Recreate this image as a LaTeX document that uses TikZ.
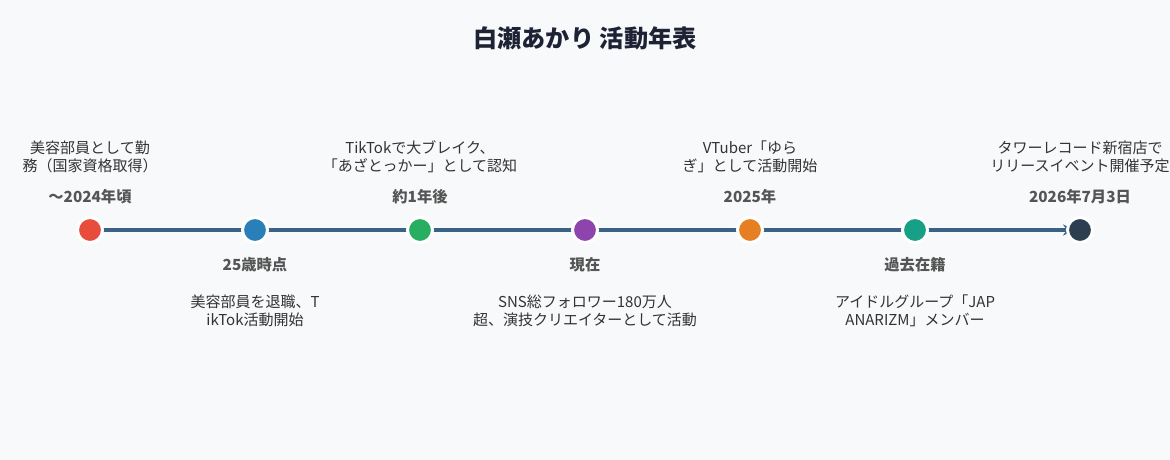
\documentclass[tikz,border=0pt]{standalone}
\usepackage{fontspec}
\setmainfont{Noto Sans CJK JP}
\usetikzlibrary{arrows.meta}
\definecolor{bg}{HTML}{F8F9FA}
\definecolor{axis}{HTML}{3A6186}
\definecolor{ttl}{HTML}{1E2235}
\definecolor{desc}{HTML}{333333}
\definecolor{datec}{HTML}{555555}
\definecolor{c1}{HTML}{E74C3C}
\definecolor{c2}{HTML}{2980B9}
\definecolor{c3}{HTML}{27AE60}
\definecolor{c4}{HTML}{8E44AD}
\definecolor{c5}{HTML}{E67E22}
\definecolor{c6}{HTML}{16A085}
\definecolor{c7}{HTML}{2C3E50}
\tikzset{
  ev/.style={circle, minimum size=25pt, inner sep=0pt, draw=white, line width=3pt, fill=#1},
  datelbl/.style={font=\fontsize{15.3}{18}\selectfont\bfseries, text=datec, inner sep=0pt},
  desclbl/.style={font=\fontsize{15}{18}\selectfont, text=desc, align=center, inner sep=0pt},
}
\begin{document}
\begin{tikzpicture}[x=1pt,y=-1pt]
\fill[bg] (0,0) rectangle (1170,460);
\useasboundingbox (0,0) rectangle (1170,460);
\node[font=\fontsize{24.2}{28}\selectfont\bfseries, text=ttl] (title) at (585,38) {白瀬あかり 活動年表};
\coordinate (p1) at (90,230);
\coordinate (p7) at (1075,230);
\draw[axis, line width=4pt, -{Stealth[length=12pt,width=11pt]}] (p1) -- (p7);
\node[ev=c1] (n1) at (90,230) {};
\node[ev=c2] (n2) at (255,230) {};
\node[ev=c3] (n3) at (420,230) {};
\node[ev=c4] (n4) at (585,230) {};
\node[ev=c5] (n5) at (750,230) {};
\node[ev=c6] (n6) at (915,230) {};
\node[ev=c7] (n7) at (1080,230) {};
% dates
\node[datelbl] (d1) at (90,197) {～2024年頃};
\node[datelbl] (d2) at (255,265) {25歳時点};
\node[datelbl] (d3) at (420,197) {約1年後};
\node[datelbl] (d4) at (585,265) {現在};
\node[datelbl] (d5) at (750,197) {2025年};
\node[datelbl] (d6) at (915,265) {過去在籍};
\node[datelbl] (d7) at (1080,197) {2026年7月3日};
% descriptions
\node[desclbl] (t1) at (90,157) {美容部員として勤\\務（国家資格取得）};
\node[desclbl] (t2) at (255,311) {美容部員を退職、T\\ikTok活動開始};
\node[desclbl] (t3) at (420,157) {TikTokで大ブレイク、\\「あざとっかー」として認知};
\node[desclbl] (t4) at (585,311) {SNS総フォロワー180万人\\超、演技クリエイターとして活動};
\node[desclbl] (t5) at (750,157) {VTuber「ゆら\\ぎ」として活動開始};
\node[desclbl] (t6) at (915,311) {アイドルグループ「JAP\\ANARIZM」メンバー};
\node[desclbl] (t7) at (1080,157) {タワーレコード新宿店で\\リリースイベント開催予定};
\end{tikzpicture}
\end{document}
